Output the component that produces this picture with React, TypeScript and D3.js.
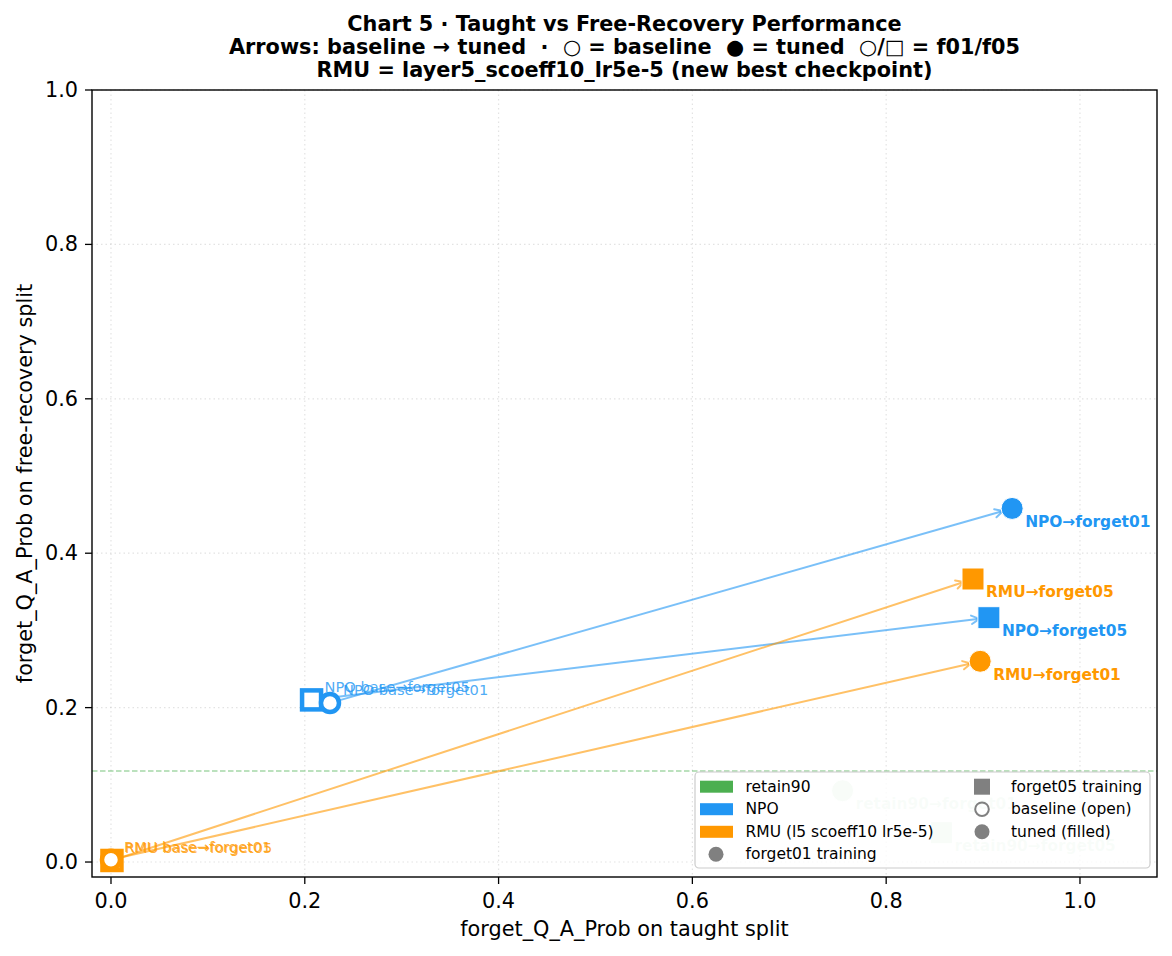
import React from "react";
import * as d3 from "d3";

// ---- data ----
const methods = ["retain90", "NPO", "RMU"];
const methodColors = ["#4CAF50", "#2196F3", "#FF9800"];
const splits = ["forget01", "forget05"];
// baseline (open) points; retain90 has no baseline
const npoBaseX = [0.226, 0.207];
const npoBaseY = [0.206, 0.210];
const rmuBaseX = [0.0, 0.001];
const rmuBaseY = [0.003, 0.002];
// tuned (filled) points
const npoTunedX = [0.930, 0.906];
const npoTunedY = [0.458, 0.3165];
const rmuTunedX = [0.897, 0.8896];
const rmuTunedY = [0.260, 0.3666];
const retainX = [0.755, 0.857];
const retainY = [0.0924, 0.038];
const retainRef = 0.118;
const ticks = [0, 0.2, 0.4, 0.6, 0.8, 1.0];
const legendLeft = ["retain90", "NPO", "RMU (l5 scoeff10 lr5e-5)", "forget01 training"];
const legendRight = ["forget05 training", "baseline (open)", "tuned (filled)"];
const titleLines = [
  "Chart 5 · Taught vs Free-Recovery Performance",
  "Arrows: baseline → tuned  ·  ○ = baseline  ● = tuned  ○/□ = f01/f05",
  "RMU = layer5_scoeff10_lr5e-5 (new best checkpoint)",
];

const W = 1172;
const H = 956;
const L = 92, R = 1157, T = 90, B = 877;
const FONT = "DejaVu Sans, sans-serif";

const x = d3.scaleLinear().domain([-0.0196, 1.0795]).range([L, R]);
const y = d3.scaleLinear().domain([-0.0194, 1.0]).range([B, T]);

const fmt = d3.format(".1f");

function Marker({ cx, cy, split, fill, stroke, sw, opacity = 1, size = 22 }: any) {
  if (split === 0) {
    return <circle cx={cx} cy={cy} r={size / 2} fill={fill} stroke={stroke} strokeWidth={sw} opacity={opacity} />;
  }
  return (
    <rect x={cx - size / 2} y={cy - size / 2} width={size} height={size} fill={fill} stroke={stroke} strokeWidth={sw} opacity={opacity} />
  );
}

function Arrow({ x1, y1, x2, y2, color }: any) {
  const dx = x2 - x1, dy = y2 - y1;
  const len = Math.hypot(dx, dy);
  const ux = dx / len, uy = dy / len;
  const sA = 4, sB = 9.5;
  const ax = x1 + ux * sA, ay = y1 + uy * sA;
  const bx = x2 - ux * sB, by = y2 - uy * sB;
  const hl = 8, hw = 4.2;
  const px = -uy, py = ux;
  const h1x = bx - ux * hl + px * hw, h1y = by - uy * hl + py * hw;
  const h2x = bx - ux * hl - px * hw, h2y = by - uy * hl - py * hw;
  return (
    <g stroke={color} strokeOpacity={0.6} strokeWidth={2} fill="none" strokeLinecap="round" strokeLinejoin="round">
      <path d={`M${ax},${ay}L${bx},${by}`} />
      <path d={`M${h1x},${h1y}L${bx},${by}L${h2x},${h2y}`} />
    </g>
  );
}

export default function App() {
  const groups = [
    { name: "NPO", color: methodColors[1], bx: npoBaseX, by: npoBaseY, tx: npoTunedX, ty: npoTunedY },
    { name: "RMU", color: methodColors[2], bx: rmuBaseX, by: rmuBaseY, tx: rmuTunedX, ty: rmuTunedY },
  ];
  const rowY = [786.7, 809.2, 831.8, 854.3];
  return (
    <svg width={W} height={H} style={{ display: "block", position: "absolute", left: 0, top: 0, background: "#fff" }} fontFamily={FONT}>
      <rect width={W} height={H} fill="#fff" />
      {/* title */}
      {titleLines.map((t, i) => (
        <text key={i} x={(L + R) / 2} y={31 + i * 23} textAnchor="middle" fontWeight="bold" fontSize={20.8} fill="#000" style={{ whiteSpace: "pre" }}>
          {t}
        </text>
      ))}
      {/* grid */}
      <g stroke="#b0b0b0" strokeOpacity={0.35} strokeWidth={1.2} strokeDasharray="1.5,3">
        {ticks.map((t) => (
          <line key={"gx" + t} x1={x(t)} x2={x(t)} y1={T} y2={B} />
        ))}
        {ticks.map((t) => (
          <line key={"gy" + t} x1={L} x2={R} y1={y(t)} y2={y(t)} />
        ))}
      </g>
      {/* retain reference line */}
      <line x1={L} x2={R} y1={y(retainRef)} y2={y(retainRef)} stroke={methodColors[0]} strokeOpacity={0.5} strokeWidth={1.5} strokeDasharray="5.5,2.5" />
      {/* arrows */}
      {groups.map((g) =>
        splits.map((s, i) => (
          <Arrow key={g.name + s} x1={x(g.bx[i])} y1={y(g.by[i])} x2={x(g.tx[i])} y2={y(g.ty[i])} color={g.color} />
        ))
      )}
      {/* retain90 tuned points */}
      {splits.map((s, i) => (
        <Marker key={"ret" + s} cx={x(retainX[i])} cy={y(retainY[i])} split={i} fill={methodColors[0]} stroke="#fff" sw={1} opacity={0.2} />
      ))}
      {/* baseline markers (f05 squares first, then circles) */}
      {groups.map((g) =>
        [1, 0].map((i) => (
          <Marker key={"b" + g.name + i} cx={x(g.bx[i])} cy={y(g.by[i])} split={i} fill="#fff" stroke={g.color} sw={4.5} size={i === 0 ? 18 : 19} />
        ))
      )}
      {/* tuned markers */}
      {groups.map((g) =>
        splits.map((s, i) => (
          <Marker key={"t" + g.name + s} cx={x(g.tx[i])} cy={y(g.ty[i])} split={i} fill={g.color} stroke="#fff" sw={1} size={22} />
        ))
      )}
      {/* baseline labels */}
      {groups.map((g) =>
        splits.map((s, i) => (
          <text key={"bl" + g.name + s} x={x(g.bx[i]) + 13} y={y(g.by[i]) - 13} dominantBaseline="central" fontSize={14.6} fill={g.color} fillOpacity={0.8}>
            {`${g.name} base→${s}`}
          </text>
        ))
      )}
      {/* tuned labels */}
      {groups.map((g) =>
        splits.map((s, i) => (
          <text key={"tl" + g.name + s} x={x(g.tx[i]) + 13} y={y(g.ty[i]) + 13.5} dominantBaseline="central" fontSize={15.4} fontWeight="bold" fill={g.color}>
            {`${g.name}→${s}`}
          </text>
        ))
      )}
      {splits.map((s, i) => (
        <text key={"rl" + s} x={x(retainX[i]) + 13} y={y(retainY[i]) + 13.5} dominantBaseline="central" fontSize={15.4} fontWeight="bold" fill={methodColors[0]} fillOpacity={0.2}>
          {`retain90→${s}`}
        </text>
      ))}
      {/* axes frame */}
      <rect x={L} y={T} width={R - L} height={B - T} fill="none" stroke="#000" strokeWidth={1.4} />
      {/* ticks */}
      {ticks.map((t) => (
        <g key={"xt" + t}>
          <line x1={x(t)} x2={x(t)} y1={B} y2={B + 7} stroke="#000" strokeWidth={1.3} />
          <text x={x(t)} y={908} textAnchor="middle" fontSize={20.8} fill="#000">
            {fmt(t)}
          </text>
        </g>
      ))}
      {ticks.map((t) => (
        <g key={"yt" + t}>
          <line x1={L - 7} x2={L} y1={y(t)} y2={y(t)} stroke="#000" strokeWidth={1.3} />
          <text x={78} y={y(t)} textAnchor="end" dominantBaseline="central" fontSize={20.8} fill="#000">
            {fmt(t)}
          </text>
        </g>
      ))}
      {/* axis labels */}
      <text x={(L + R) / 2} y={936} textAnchor="middle" fontSize={20.8} fill="#000">
        forget_Q_A_Prob on taught split
      </text>
      <text transform={`translate(31.5,${(T + B) / 2}) rotate(-90)`} textAnchor="middle" fontSize={20.8} fill="#000">
        forget_Q_A_Prob on free-recovery split
      </text>
      {/* legend */}
      <g>
        <rect x={695} y={772} width={455} height={96} rx={4} fill="#fff" fillOpacity={0.8} stroke="#cccccc" strokeWidth={1.2} />
        {methods.map((m, i) => (
          <g key={"lg" + m}>
            <rect x={700} y={rowY[i] - 6} width={33} height={12} fill={methodColors[i]} />
            <text x={745.5} y={rowY[i]} dominantBaseline="central" fontSize={15.5} fill="#000">
              {legendLeft[i]}
            </text>
          </g>
        ))}
        <circle cx={716} cy={rowY[3]} r={7.5} fill="#808080" />
        <text x={745.5} y={rowY[3]} dominantBaseline="central" fontSize={15.5} fill="#000">
          {legendLeft[3]}
        </text>
        <rect x={974} y={rowY[0] - 8} width={16} height={16} fill="#808080" />
        <circle cx={982} cy={rowY[1]} r={6.8} fill="none" stroke="#808080" strokeWidth={2} />
        <circle cx={982} cy={rowY[2]} r={7.5} fill="#808080" />
        {legendRight.map((t, i) => (
          <text key={"lr" + i} x={1011} y={rowY[i]} dominantBaseline="central" fontSize={15.5} fill="#000">
            {t}
          </text>
        ))}
      </g>
    </svg>
  );
}
